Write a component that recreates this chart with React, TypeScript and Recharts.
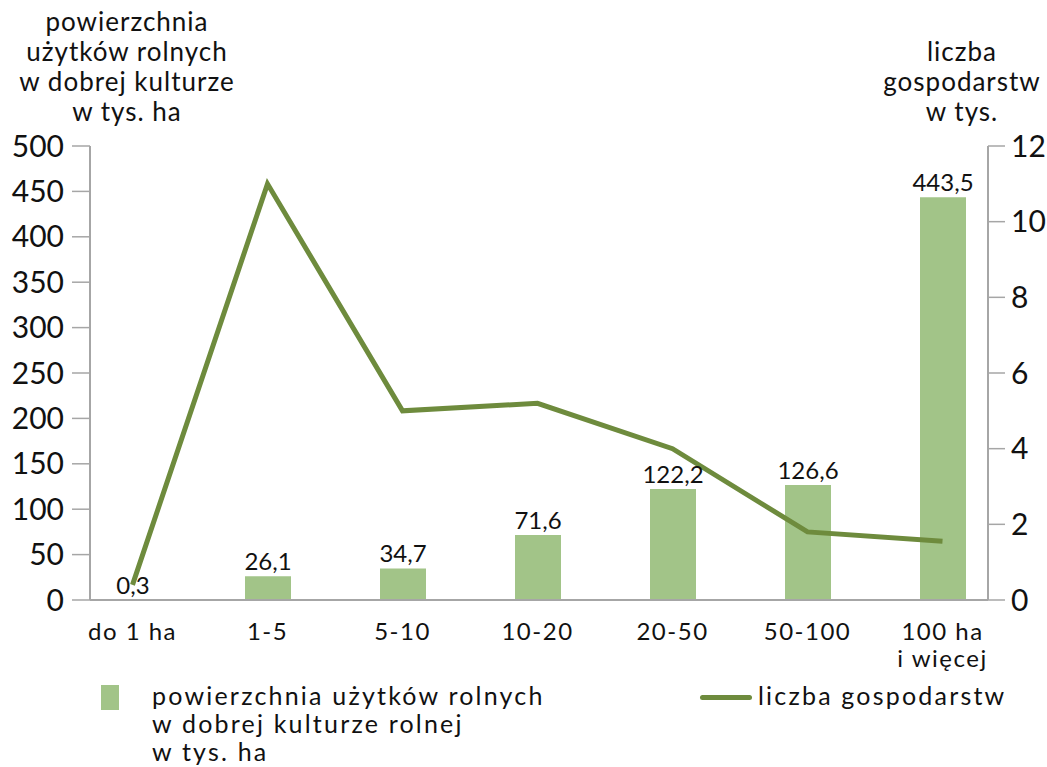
import React from 'react';
import {
  ComposedChart, Bar, Line, XAxis, YAxis, LabelList,
} from 'recharts';

const categories = ['do 1 ha', '1-5', '5-10', '10-20', '20-50', '50-100', '100 ha\ni więcej'];
const areaValues = [0.3, 26.1, 34.7, 71.6, 122.2, 126.6, 443.5];
const farmCounts = [0.4, 11.0, 5.0, 5.2, 4.0, 1.8, 1.55];
const leftTicks = [0, 50, 100, 150, 200, 250, 300, 350, 400, 450, 500];
const rightTicks = [0, 2, 4, 6, 8, 10, 12];

const data = categories.map((name, i) => ({
  name,
  area: areaValues[i],
  farms: farmCounts[i],
}));

const FONT = 'Lato, "Open Sans", sans-serif';
const BAR_COLOR = '#a2c488';
const LINE_COLOR = '#6e8b3d';
const AXIS_COLOR = '#a6a6a6';

function CategoryTick(props: any) {
  const { x, y, payload } = props;
  const lines = String(payload.value).split('\n');
  return (
    <g transform={`translate(${x},${y})`}>
      {lines.map((line, i) => (
        <text
          key={i}
          x={0}
          y={32 + i * 27}
          textAnchor="middle"
          fontSize={24}
          letterSpacing={1.5}
          fontFamily={FONT}
          fill="#111"
        >
          {line}
        </text>
      ))}
    </g>
  );
}

const fmt = (v: any) => String(v).replace('.', ',');

export default function App() {
  return (
    <div style={{ position: 'absolute', left: 0, top: 0, width: 1047, height: 767, overflow: 'hidden', background: '#fff', fontFamily: FONT, color: '#111' }}>
      <ComposedChart
        width={1047}
        height={767}
        data={data}
        margin={{ top: 146, right: 4, left: 10, bottom: 107 }}
      >
        <XAxis
          dataKey="name"
          interval={0}
          tick={<CategoryTick />}
          tickLine={false}
          axisLine={{ stroke: AXIS_COLOR, strokeWidth: 2 }}
          padding={{ left: -25, right: -22 }}
          height={60}
        />
        <YAxis
          yAxisId="left"
          domain={[0, 500]}
          ticks={leftTicks}
          interval={0}
          width={80}
          tickSize={18}
          tickLine={{ stroke: AXIS_COLOR, strokeWidth: 1.5 }}
          axisLine={{ stroke: AXIS_COLOR, strokeWidth: 2 }}
          tick={{ fontSize: 30, fontFamily: FONT, fill: '#111' }}
          tickMargin={8}
        />
        <YAxis
          yAxisId="right"
          orientation="right"
          domain={[0, 12]}
          ticks={rightTicks}
          interval={0}
          width={55}
          tickSize={17}
          tickLine={{ stroke: AXIS_COLOR, strokeWidth: 1.5 }}
          axisLine={{ stroke: AXIS_COLOR, strokeWidth: 2 }}
          tick={{ fontSize: 30, fontFamily: FONT, fill: '#111' }}
          tickMargin={6}
        />
        <Bar yAxisId="left" dataKey="area" fill={BAR_COLOR} barSize={46} isAnimationActive={false}>
          <LabelList
            dataKey="area"
            position="top"
            offset={6}
            formatter={fmt}
            style={{ fontSize: 24, fontFamily: FONT, fill: '#111' }}
          />
        </Bar>
        <Line
          yAxisId="right"
          dataKey="farms"
          type="linear"
          stroke={LINE_COLOR}
          strokeWidth={5}
          dot={false}
          isAnimationActive={false}
        />
      </ComposedChart>

      <div style={{ position: 'absolute', left: 0, top: 6, width: 254, textAlign: 'center', fontSize: 26, letterSpacing: 1, lineHeight: '30px' }}>
        powierzchnia<br />użytków rolnych<br />w dobrej kulturze<br />w tys. ha
      </div>
      <div style={{ position: 'absolute', left: 862, top: 36, width: 200, textAlign: 'center', fontSize: 26, letterSpacing: 1, lineHeight: '30px' }}>
        liczba<br />gospodarstw<br />w tys.
      </div>

      <div style={{ position: 'absolute', left: 101, top: 685, width: 18, height: 25, background: BAR_COLOR }} />
      <div style={{ position: 'absolute', left: 152, top: 681, fontSize: 25, letterSpacing: 2.2, lineHeight: '28px' }}>
        powierzchnia użytków rolnych<br />w dobrej kulturze rolnej<br />w tys. ha
      </div>
      <div style={{ position: 'absolute', left: 700, top: 695, width: 52, height: 5, borderRadius: 3, background: LINE_COLOR }} />
      <div style={{ position: 'absolute', left: 758, top: 681, fontSize: 25, letterSpacing: 2.2, lineHeight: '28px' }}>
        liczba gospodarstw
      </div>
    </div>
  );
}
